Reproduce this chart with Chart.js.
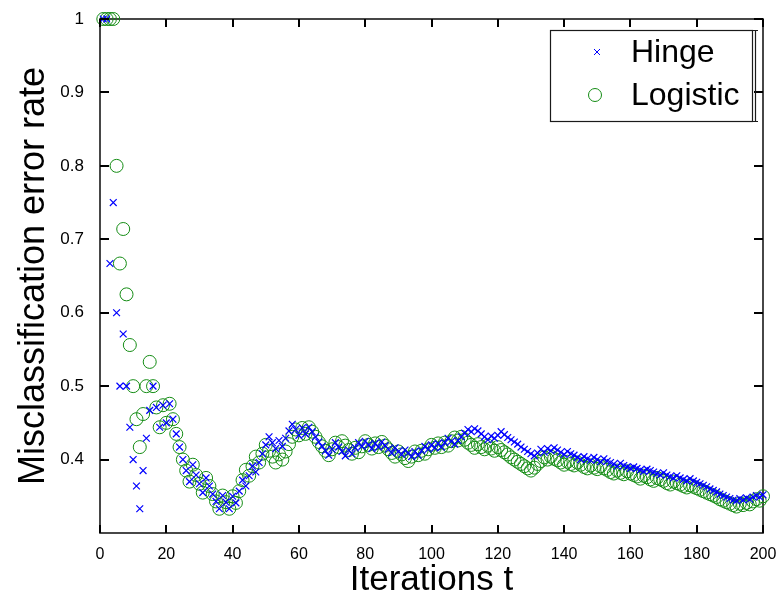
<!DOCTYPE html>
<html>
<head>
<meta charset="utf-8">
<script src="https://cdn.jsdelivr.net/npm/chart.js@4.4.1/dist/chart.umd.min.js"></script>
<style>
html,body{margin:0;padding:0;background:#fff;}
#wrap{width:783px;height:601px;position:relative;}
</style>
</head>
<body>
<div id="wrap"><canvas id="c" width="783" height="601"></canvas></div>
<script>
const iterations = Array.from({length: 200}, (_, i) => i + 1);

const hingeRate = [
  1, 1, 0.667, 0.75, 0.6, 0.5, 0.571, 0.5, 0.444, 0.4,
  0.364, 0.333, 0.385, 0.429, 0.467, 0.5, 0.471, 0.444, 0.474, 0.45,
  0.476, 0.455, 0.435, 0.417, 0.4, 0.385, 0.37, 0.393, 0.379, 0.367,
  0.355, 0.375, 0.364, 0.353, 0.343, 0.333, 0.351, 0.342, 0.333, 0.35,
  0.341, 0.357, 0.372, 0.364, 0.378, 0.391, 0.383, 0.396, 0.408, 0.42,
  0.431, 0.423, 0.415, 0.426, 0.418, 0.429, 0.439, 0.448, 0.441, 0.433,
  0.443, 0.435, 0.444, 0.438, 0.431, 0.424, 0.418, 0.412, 0.406, 0.414,
  0.423, 0.417, 0.411, 0.405, 0.413, 0.408, 0.416, 0.423, 0.418, 0.425,
  0.42, 0.415, 0.422, 0.417, 0.424, 0.419, 0.414, 0.409, 0.416, 0.411,
  0.407, 0.413, 0.409, 0.404, 0.411, 0.406, 0.412, 0.418, 0.414, 0.42,
  0.416, 0.422, 0.417, 0.423, 0.429, 0.425, 0.421, 0.426, 0.431, 0.436,
  0.441, 0.438, 0.442, 0.439, 0.435, 0.431, 0.427, 0.432, 0.429, 0.433,
  0.438, 0.434, 0.43, 0.427, 0.424, 0.421, 0.417, 0.414, 0.411, 0.408,
  0.405, 0.409, 0.414, 0.41, 0.415, 0.412, 0.416, 0.413, 0.41, 0.407,
  0.411, 0.408, 0.406, 0.403, 0.4, 0.404, 0.401, 0.399, 0.403, 0.4,
  0.397, 0.401, 0.398, 0.396, 0.394, 0.391, 0.395, 0.392, 0.39, 0.388,
  0.39, 0.388, 0.386, 0.384, 0.387, 0.385, 0.383, 0.381, 0.379, 0.382,
  0.379, 0.377, 0.375, 0.378, 0.375, 0.373, 0.371, 0.374, 0.371, 0.369,
  0.367, 0.365, 0.363, 0.36, 0.358, 0.356, 0.353, 0.351, 0.349, 0.347,
  0.345, 0.344, 0.347, 0.345, 0.348, 0.346, 0.349, 0.351, 0.349, 0.352
];

const logisticRate = [
  1, 1, 1, 1, 0.8, 0.667, 0.714, 0.625, 0.556, 0.5,
  0.455, 0.417, 0.462, 0.5, 0.533, 0.5, 0.471, 0.444, 0.474, 0.45,
  0.476, 0.455, 0.435, 0.417, 0.4, 0.385, 0.37, 0.393, 0.379, 0.367,
  0.355, 0.375, 0.364, 0.353, 0.343, 0.333, 0.351, 0.342, 0.333, 0.35,
  0.341, 0.357, 0.372, 0.386, 0.378, 0.391, 0.404, 0.396, 0.408, 0.42,
  0.412, 0.404, 0.396, 0.407, 0.4, 0.411, 0.421, 0.431, 0.441, 0.433,
  0.443, 0.435, 0.444, 0.438, 0.431, 0.424, 0.418, 0.412, 0.406, 0.414,
  0.423, 0.417, 0.425, 0.419, 0.413, 0.408, 0.416, 0.41, 0.418, 0.425,
  0.42, 0.415, 0.422, 0.417, 0.424, 0.419, 0.414, 0.409, 0.404, 0.411,
  0.407, 0.402, 0.398, 0.404, 0.411, 0.406, 0.412, 0.408, 0.414, 0.42,
  0.416, 0.422, 0.417, 0.423, 0.419, 0.425, 0.43, 0.426, 0.431, 0.427,
  0.423, 0.42, 0.416, 0.421, 0.417, 0.414, 0.419, 0.415, 0.412, 0.417,
  0.413, 0.41, 0.407, 0.403, 0.4, 0.397, 0.394, 0.391, 0.388, 0.385,
  0.389, 0.394, 0.398, 0.403, 0.4, 0.404, 0.401, 0.399, 0.396, 0.393,
  0.397, 0.394, 0.392, 0.396, 0.393, 0.39, 0.388, 0.392, 0.389, 0.387,
  0.391, 0.388, 0.386, 0.383, 0.381, 0.385, 0.382, 0.38, 0.384, 0.381,
  0.379, 0.377, 0.374, 0.378, 0.376, 0.373, 0.371, 0.375, 0.373, 0.371,
  0.368, 0.366, 0.37, 0.368, 0.366, 0.364, 0.362, 0.365, 0.363, 0.361,
  0.359, 0.357, 0.355, 0.353, 0.351, 0.349, 0.346, 0.344, 0.342, 0.34,
  0.338, 0.336, 0.34, 0.338, 0.341, 0.339, 0.343, 0.346, 0.344, 0.35
];

const seriesNames = ['Hinge', 'Logistic'];
const xTickValues = [0, 20, 40, 60, 80, 100, 120, 140, 160, 180, 200];
const yTickValues = [0.4, 0.5, 0.6, 0.7, 0.8, 0.9, 1];
const xAxisTitle = 'Iterations t';
const yAxisTitle = 'Misclassification error rate';

const FONT = '"Liberation Sans", Arial, Helvetica, sans-serif';
const BLUE = 'rgb(0,0,255)';
const GREEN = 'rgb(20,140,20)';

const toPoints = arr => iterations.map((t, i) => ({x: t, y: arr[i]}));

function tickPixel(scale, v, lo, hi, a0, a1) {
  let p = scale.getPixelForValue(v);
  if (!isFinite(p)) p = a0 + (v - lo) / (hi - lo) * (a1 - a0);
  return Math.round(p);
}

const framePlugin = {
  id: 'axisframe',
  beforeDatasetsDraw(chart) {
    const ctx = chart.ctx;
    const a = chart.chartArea;
    const L = Math.round(a.left), R = Math.round(a.right);
    const T = Math.round(a.top), B = Math.round(a.bottom);
    ctx.save();
    ctx.strokeStyle = '#1a1a1a';
    ctx.lineWidth = 1.6;
    ctx.lineCap = 'square';
    ctx.strokeRect(L, T, R - L, B - T);
    ctx.restore();
  },
  afterDraw(chart) {
    const ctx = chart.ctx;
    const a = chart.chartArea;
    const xs = chart.scales.x, ys = chart.scales.y;
    const L = Math.round(a.left), R = Math.round(a.right);
    const T = Math.round(a.top), B = Math.round(a.bottom);
    ctx.save();
    ctx.fillStyle = '#000';
    for (const v of xTickValues) {
      const px = tickPixel(xs, v, 0, 200, a.left, a.right);
      ctx.fillRect(px - 1, B - 8, 2, 8);
      ctx.fillRect(px - 1, T, 2, 8);
    }
    for (const v of yTickValues) {
      const py = tickPixel(ys, v, 0.3, 1, a.bottom, a.top);
      ctx.fillRect(L, py - 1, 9, 2);
      ctx.fillRect(R - 9, py - 1, 9, 2);
    }
    ctx.restore();
  }
};

const legendPlugin = {
  id: 'boxLegend',
  afterDraw(chart) {
    const {ctx} = chart;
    const x0 = 550.5, y0 = 30.5, x1 = 752.5, y1 = 121.5;
    ctx.save();
    ctx.fillStyle = '#fff';
    ctx.fillRect(x0, y0, x1 - x0, y1 - y0);
    ctx.strokeStyle = '#1a1a1a';
    ctx.lineWidth = 1.2;
    ctx.strokeRect(x0, y0, x1 - x0, y1 - y0);
    ctx.beginPath();
    ctx.moveTo(755.5, 30); ctx.lineTo(755.5, 122);
    ctx.moveTo(753, 30.5); ctx.lineTo(758, 30.5);
    ctx.moveTo(753, 121.5); ctx.lineTo(758, 121.5);
    ctx.stroke();
    const rows = [52, 95];
    chart.data.datasets.forEach((ds, i) => {
      const y = rows[i];
      ctx.strokeStyle = ds.borderColor;
      ctx.lineWidth = 1;
      ctx.beginPath();
      if (ds.pointStyle === 'crossRot') {
        const r = 3;
        ctx.moveTo(597 - r, y - r); ctx.lineTo(597 + r, y + r);
        ctx.moveTo(597 - r, y + r); ctx.lineTo(597 + r, y - r);
      } else {
        ctx.arc(595, y, 6.5, 0, Math.PI * 2);
      }
      ctx.stroke();
      ctx.fillStyle = '#000';
      ctx.font = '32px ' + FONT;
      ctx.textBaseline = 'middle';
      ctx.textAlign = 'left';
      ctx.fillText(ds.label, 631, y + 1);
    });
    ctx.restore();
  }
};

new Chart(document.getElementById('c'), {
  type: 'scatter',
  data: {
    datasets: [
      {
        label: seriesNames[0],
        data: toPoints(hingeRate),
        pointStyle: 'crossRot',
        pointRadius: 4.8,
        pointBorderWidth: 1.2,
        borderColor: BLUE,
        backgroundColor: BLUE,
        showLine: false,
        clip: false
      },
      {
        label: seriesNames[1],
        data: toPoints(logisticRate),
        pointStyle: 'circle',
        pointRadius: 6.5,
        pointBorderWidth: 1,
        borderColor: GREEN,
        backgroundColor: 'rgba(0,0,0,0)',
        showLine: false,
        clip: false
      }
    ]
  },
  options: {
    responsive: false,
    animation: false,
    devicePixelRatio: 1,
    layout: {padding: {top: 19, right: 20, left: 0, bottom: 0}},
    plugins: {legend: {display: false}, tooltip: {enabled: false}, title: {display: false}},
    scales: {
      x: {
        type: 'linear',
        min: 0, max: 200,
        afterBuildTicks: s => { s.ticks = xTickValues.map(v => ({value: v})); },
        afterFit: s => { s.height = 68; },
        grid: {display: false},
        border: {display: false},
        ticks: {
          color: '#000', padding: 4,
          font: {family: FONT, size: 16},
          callback: v => String(v)
        },
        title: {
          display: true, text: xAxisTitle, color: '#000',
          font: {family: FONT, size: 35}, padding: {top: 0, bottom: 0}
        }
      },
      y: {
        type: 'linear',
        min: 0.3, max: 1,
        afterBuildTicks: s => { s.ticks = yTickValues.map(v => ({value: v})); },
        afterFit: s => { s.width = 100; },
        grid: {display: false},
        border: {display: false},
        ticks: {
          color: '#000', padding: 8,
          font: {family: FONT, size: 17},
          callback: v => (Math.abs(v - 1) < 1e-9 ? '1' : (Math.round(v * 10) / 10).toFixed(1))
        },
        title: {
          display: true, text: yAxisTitle, color: '#000',
          font: {family: FONT, size: 36}, padding: {top: 12, bottom: 0}
        }
      }
    }
  },
  plugins: [framePlugin, legendPlugin]
});
</script>
</body>
</html>
